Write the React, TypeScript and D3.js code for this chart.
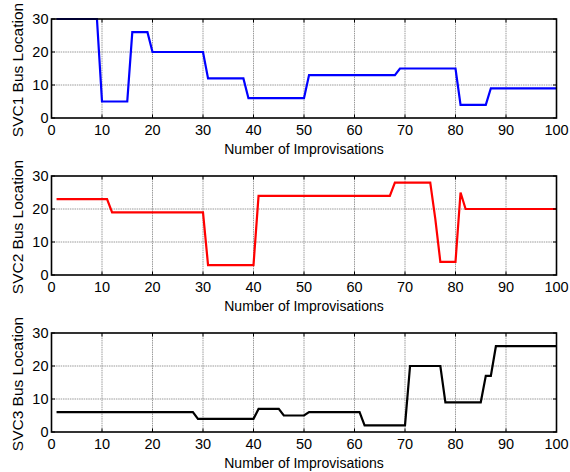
import React from "react";
import * as d3 from "d3";

const iterations: number[] = d3.range(1, 101);

const svc1: number[] = [
  30, 30, 30, 30, 30, 30, 30, 30, 30,
  5, 5, 5, 5, 5, 5,
  26, 26, 26, 26,
  20, 20, 20, 20, 20, 20, 20, 20, 20, 20, 20,
  12, 12, 12, 12, 12, 12, 12, 12,
  6, 6, 6, 6, 6, 6, 6, 6, 6, 6, 6, 6,
  13, 13, 13, 13, 13, 13, 13, 13, 13, 13, 13, 13, 13, 13, 13, 13, 13, 13,
  15, 15, 15, 15, 15, 15, 15, 15, 15, 15, 15, 15,
  4, 4, 4, 4, 4, 4,
  9, 9, 9, 9, 9, 9, 9, 9, 9, 9, 9, 9, 9, 9,
];

const svc2: number[] = [
  23, 23, 23, 23, 23, 23, 23, 23, 23, 23, 23,
  19, 19, 19, 19, 19, 19, 19, 19, 19, 19, 19, 19, 19, 19, 19, 19, 19, 19, 19,
  3, 3, 3, 3, 3, 3, 3, 3, 3, 3,
  24, 24, 24, 24, 24, 24, 24, 24, 24, 24, 24, 24, 24, 24, 24, 24, 24, 24, 24, 24, 24, 24, 24, 24, 24, 24, 24,
  28, 28, 28, 28, 28, 28, 28, 28,
  17,
  4, 4, 4, 4,
  25,
  20, 20, 20, 20, 20, 20, 20, 20, 20, 20, 20, 20, 20, 20, 20, 20, 20, 20, 20,
];

const svc3: number[] = [
  6, 6, 6, 6, 6, 6, 6, 6, 6, 6, 6, 6, 6, 6, 6, 6, 6, 6, 6, 6, 6, 6, 6, 6, 6, 6, 6, 6,
  4, 4, 4, 4, 4, 4, 4, 4, 4, 4, 4, 4,
  7, 7, 7, 7, 7,
  5, 5, 5, 5, 5,
  6, 6, 6, 6, 6, 6, 6, 6, 6, 6, 6,
  2, 2, 2, 2, 2, 2, 2, 2, 2,
  20, 20, 20, 20, 20, 20, 20,
  9, 9, 9, 9, 9, 9, 9, 9,
  17, 17,
  26, 26, 26, 26, 26, 26, 26, 26, 26, 26, 26, 26, 26,
];

const xTicks: number[] = [0, 10, 20, 30, 40, 50, 60, 70, 80, 90, 100];
const yTicks: number[] = [0, 10, 20, 30];
const xTitle = "Number of Improvisations";

const panels = [
  { label: "SVC1 Bus Location", values: svc1, color: "#0000ff", top: 19, bottom: 118 },
  { label: "SVC2 Bus Location", values: svc2, color: "#ff0000", top: 176, bottom: 275 },
  { label: "SVC3 Bus Location", values: svc3, color: "#000000", top: 333, bottom: 432 },
];

const LEFT = 51.5;
const RIGHT = 556.5;
const FONT = "Liberation Sans, Arial, Helvetica, sans-serif";

function Panel({ p }: { p: (typeof panels)[number] }) {
  const x = d3.scaleLinear().domain([0, 100]).range([LEFT, RIGHT]);
  const y = d3.scaleLinear().domain([0, 30]).range([p.bottom, p.top]);
  const line = d3
    .line<number>()
    .x((_, i) => x(iterations[i]))
    .y((d) => y(d));
  const tl = 3.5;
  return (
    <g>
      {xTicks.slice(1, -1).map((t) => (
        <line key={"gx" + t} x1={x(t)} x2={x(t)} y1={p.top} y2={p.bottom} stroke="#9a9a9a" strokeWidth={1} strokeDasharray="1.5,0.8" />
      ))}
      {yTicks.slice(1, -1).map((t) => (
        <line key={"gy" + t} x1={LEFT} x2={RIGHT} y1={y(t)} y2={y(t)} stroke="#9a9a9a" strokeWidth={1} strokeDasharray="1.5,0.8" />
      ))}
      <path d={line(p.values) || ""} fill="none" stroke={p.color} strokeWidth={2.2} strokeLinejoin="miter" />
      {xTicks.map((t) => (
        <g key={"tx" + t}>
          <line x1={x(t)} x2={x(t)} y1={p.bottom} y2={p.bottom - tl} stroke="#000" strokeWidth={1} />
          <line x1={x(t)} x2={x(t)} y1={p.top} y2={p.top + tl} stroke="#000" strokeWidth={1} />
          <text x={x(t)} y={p.bottom + 16.8} textAnchor="middle" fontSize={14.5} fontFamily={FONT} fill="#000">
            {t}
          </text>
        </g>
      ))}
      {yTicks.map((t) => (
        <g key={"ty" + t}>
          <line x1={LEFT} x2={LEFT + tl} y1={y(t)} y2={y(t)} stroke="#000" strokeWidth={1} />
          <line x1={RIGHT} x2={RIGHT - tl} y1={y(t)} y2={y(t)} stroke="#000" strokeWidth={1} />
          <text x={LEFT - 3} y={y(t) + 5.2} textAnchor="end" fontSize={14.5} fontFamily={FONT} fill="#000">
            {t}
          </text>
        </g>
      ))}
      <rect x={LEFT} y={p.top} width={RIGHT - LEFT} height={p.bottom - p.top} fill="none" stroke="#000" strokeWidth={1.6} />
      <text x={(LEFT + RIGHT) / 2} y={p.bottom + 36} textAnchor="middle" fontSize={14} fontFamily={FONT} fill="#000">
        {xTitle}
      </text>
      <text
        transform={`translate(23,${(p.top + p.bottom) / 2 + 1.5}) rotate(-90)`}
        textAnchor="middle"
        fontSize={15.5}
        fontFamily={FONT}
        fill="#000"
      >
        {p.label}
      </text>
    </g>
  );
}

export default function App() {
  return (
    <svg width={570} height={472} style={{ position: "absolute", left: 0, top: 0, background: "#fff" }}>
      <rect x={0} y={0} width={570} height={472} fill="#fff" />
      {panels.map((p) => (
        <Panel key={p.label} p={p} />
      ))}
    </svg>
  );
}
